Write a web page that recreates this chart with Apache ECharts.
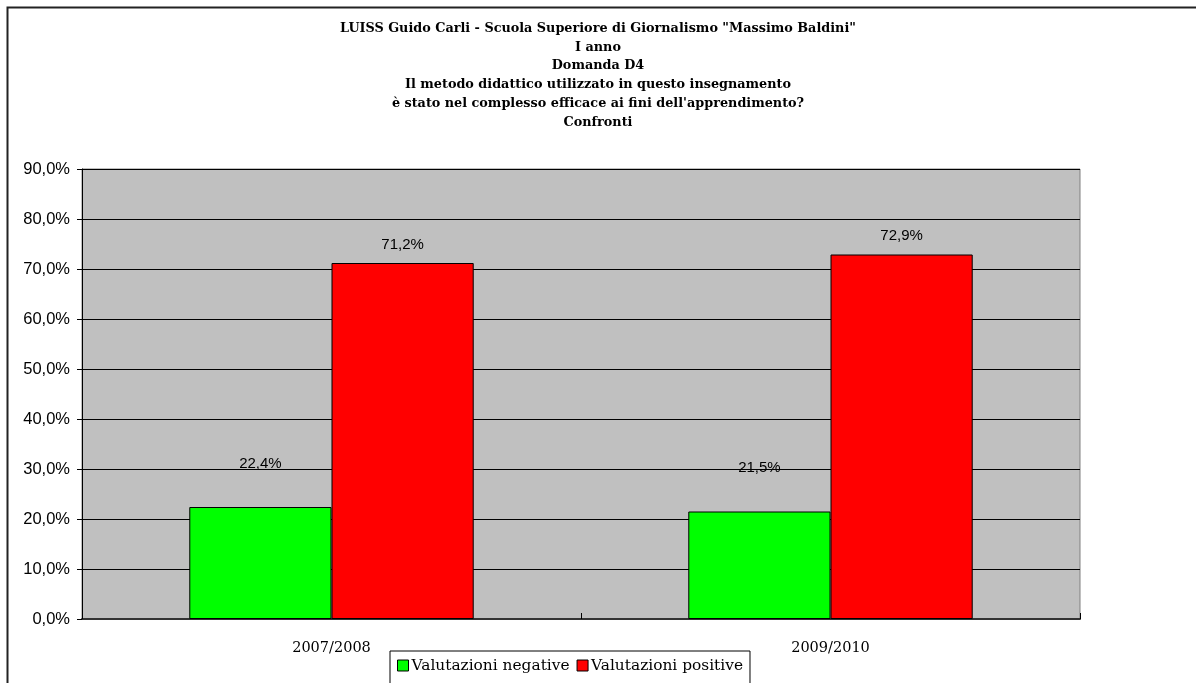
<!DOCTYPE html>
<html style="background-color: #fff;">
<head>
<meta charset="utf-8">
<script src="https://cdn.jsdelivr.net/npm/echarts@6/dist/echarts.min.js"></script>
<style>
  html, body {margin: 0; padding: 0; background: #fff;}
  #container {width: 1196px; height: 683px;}
</style>
</head>
<body>
<div id="container"></div>
<script type="text/javascript">
// --- data ---
var titleLines = [
    'LUISS Guido Carli - Scuola Superiore di Giornalismo "Massimo Baldini"',
    'I anno',
    'Domanda D4',
    'Il metodo didattico utilizzato in questo insegnamento',
    "è stato nel complesso efficace ai fini dell'apprendimento?",
    'Confronti'
];
var categories = ['2007/2008', '2009/2010'];
var seriesNames = ['Valutazioni negative', 'Valutazioni positive'];
var negative = [22.4, 21.5];
var positive = [71.2, 72.9];
var seriesColors = ['#00ff00', '#ff0000'];

function pct(v) {
    return v.toFixed(1).replace('.', ',') + '%';
}

var dom = document.getElementById('container');
var myChart = echarts.init(dom);

// labels of the green bars sit higher above the bar than the red ones
function barLabel(dist) {
    return {
        show: true,
        position: 'top',
        distance: dist,
        color: '#000',
        fontFamily: 'Liberation Sans',
        fontSize: 15,
        formatter: function (p) { return pct(p.value); }
    };
}

var option = {
    animation: false,
    backgroundColor: '#fff',
    graphic: [{
        type: 'rect',
        shape: {x: 7.5, y: 7.5, width: 1300, height: 800},
        style: {fill: 'none', stroke: '#222', lineWidth: 2},
        z: 100
    }],
    title: {
        text: titleLines.join('\n'),
        left: 'center',
        top: 14,
        textStyle: {
            fontFamily: 'DejaVu Serif',
            fontWeight: 'bold',
            fontSize: 12.8,
            lineHeight: 18.8,
            color: '#000'
        }
    },
    legend: {
        data: seriesNames,
        left: 390,
        top: 651,
        orient: 'horizontal',
        padding: [7, 7, 12, 7],
        itemGap: 7,
        itemWidth: 11,
        itemHeight: 11,
        icon: 'rect',
        borderColor: '#000',
        borderWidth: 1,
        backgroundColor: '#fff',
        itemStyle: {borderColor: '#000', borderWidth: 1},
        textStyle: {
            fontFamily: 'DejaVu Serif',
            fontSize: 15.4,
            color: '#000',
            padding: [0, 0, 0, -2]
        }
    },
    grid: {
        left: 82,
        top: 169,
        width: 998,
        height: 450,
        show: true,
        backgroundColor: '#c0c0c0',
        borderColor: '#808080',
        borderWidth: 1,
        containLabel: false
    },
    xAxis: {
        type: 'category',
        data: categories,
        axisLine: {lineStyle: {color: '#333', width: 2}},
        axisTick: {show: true, inside: true, length: 6, lineStyle: {color: '#000'}},
        axisLabel: {
            margin: 22,
            color: '#000',
            fontFamily: 'DejaVu Serif',
            fontSize: 14.5
        },
        splitLine: {show: false}
    },
    yAxis: {
        type: 'value',
        min: 0,
        max: 90,
        interval: 10,
        axisLine: {show: true, lineStyle: {color: '#000', width: 1}},
        axisTick: {show: true, length: 5, lineStyle: {color: '#000'}},
        axisLabel: {
            margin: 12,
            color: '#000',
            fontFamily: 'Liberation Sans',
            fontSize: 16.5,
            formatter: function (v) { return pct(v); }
        },
        splitLine: {show: true, lineStyle: {color: '#000', width: 1}}
    },
    series: [
        {
            name: seriesNames[0],
            type: 'bar',
            data: negative,
            barGap: '0%',
            barCategoryGap: '43%',
            itemStyle: {color: seriesColors[0], borderColor: '#000', borderWidth: 1},
            label: barLabel(36)
        },
        {
            name: seriesNames[1],
            type: 'bar',
            data: positive,
            barGap: '0%',
            barCategoryGap: '43%',
            itemStyle: {color: seriesColors[1], borderColor: '#000', borderWidth: 1},
            label: barLabel(11)
        }
    ]
};

myChart.setOption(option);
</script>
</body>
</html>
